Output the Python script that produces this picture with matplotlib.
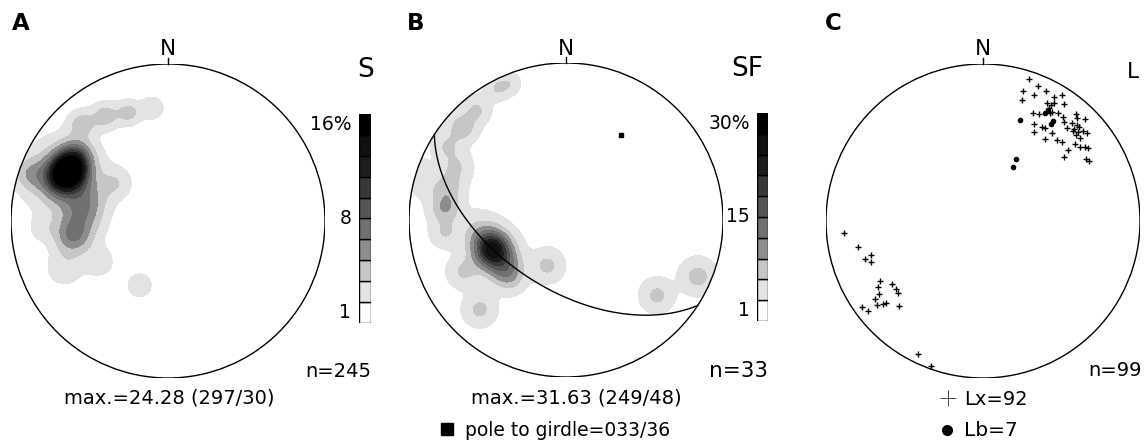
import numpy as np
import matplotlib.pyplot as plt
from matplotlib.patches import Circle

plt.rcParams['font.family'] = ['DejaVu Sans']

W, H = 1144, 446
R = 157  # net radius, px

# grey classes of the density keys, bottom (white) to top (black)
key_grays = ['#ffffff', '#e3e3e3', '#c6c6c6', '#8d8d8d', '#717171',
             '#555555', '#383838', '#1c1c1c', '#101010', '#000000']

# ---- A: poles to S
s_n = 245
s_max, s_max_trend, s_max_plunge = 24.28, 297, 30
s_levels = [1, 2.75, 4.5, 6.25, 8, 9.75, 11.5, 13.25, 15, 1000]
s_keys = ['1', '8', '16%']
s_key_pos = [0.5, 5.0, 9.5]
# density bodies around the maximum (x east, y north on unit net), peak %, spread
s_x = [-0.58, -0.69, -0.66, -0.52, -0.61, -0.55, -0.66, -0.33, -0.55, -0.40, -0.25, -0.10, -0.88, -0.18, -0.44, -0.80]
s_y = [0.42, 0.26, 0.28, 0.12, -0.10, 0.00, -0.30, 0.24, 0.62, 0.67, 0.69, 0.72, 0.30, -0.41, -0.26, -0.05]
s_amp = [4.5, 4.5, 6, 3, 5, 3, 2.2, 2.3, 3.4, 3.6, 3.4, 2.6, 3, 1.6, 2, 1.5]
s_sig = [0.07, 0.07, 0.15, 0.09, 0.08, 0.10, 0.08, 0.07, 0.06, 0.06, 0.055, 0.05, 0.07, 0.075, 0.07, 0.06]

# ---- B: poles to SF
sf_n = 33
sf_max, sf_max_trend, sf_max_plunge = 31.63, 249, 48
girdle_trend, girdle_plunge = 33, 36
sf_levels = [1, 4.5, 8, 11.5, 15, 18.5, 22, 25.5, 29, 1000]
sf_keys = ['1', '15', '30%']
sf_key_pos = [0.5, 5.0, 9.5]
sf_x = [-0.40, -0.56, -0.44, -0.36, -0.57, -0.66, -0.76, -0.70, -0.75, -0.77, -0.90, -0.93, -0.77, -0.65, -0.36, -0.12, -0.55, 0.58, 0.84, 0.46]
sf_y = [-0.28, -0.07, 0.84, 0.87, 0.70, 0.59, 0.47, 0.34, 0.21, 0.08, 0.22, 0.33, -0.08, -0.33, -0.36, -0.29, -0.57, -0.48, -0.36, -0.90]
sf_amp = [9, 4, 4.5, 3.5, 5, 7, 4.5, 4.5, 5.5, 8, 3, 2.5, 4.5, 5, 5.5, 5.5, 5.5, 5.5, 6, 1.4]
sf_sig = [0.08, 0.08, 0.05, 0.045, 0.055, 0.06, 0.06, 0.065, 0.065, 0.065, 0.055, 0.045, 0.06, 0.065, 0.065, 0.065, 0.065, 0.065, 0.07, 0.03]

# ---- C: stretching (Lx) and intersection (Lb) lineations, positions on unit net
lx_x = [0.293, 0.348, 0.257, 0.401, 0.325, 0.501, 0.250, 0.454, 0.406, 0.431, 0.452, 0.518, 0.423, 0.437,
        0.321, 0.359, 0.427, 0.480, 0.590, 0.512, 0.597, 0.650, 0.518, 0.565, 0.327, 0.378, 0.395, 0.597,
        0.614, 0.582, 0.533, 0.635, 0.665, 0.325, 0.437, 0.590, 0.618, 0.395, 0.469, 0.501, 0.586, 0.618,
        0.650, 0.667, 0.543, 0.516, 0.656, 0.673, 0.571, 0.607,
        -0.885, -0.794, -0.716, -0.752, -0.713, -0.656, -0.671, -0.577, -0.556, -0.539, -0.662, -0.688,
        -0.677, -0.635, -0.620, -0.773, -0.730, -0.535, -0.412, -0.333]
lx_y = [0.902, 0.862, 0.830, 0.828, 0.803, 0.805, 0.771, 0.788, 0.754, 0.739, 0.750, 0.743, 0.722, 0.696,
        0.690, 0.679, 0.686, 0.686, 0.682, 0.665, 0.654, 0.650, 0.633, 0.622, 0.618, 0.601, 0.590, 0.611,
        0.601, 0.584, 0.590, 0.575, 0.558, 0.565, 0.558, 0.548, 0.527, 0.520, 0.516, 0.505, 0.490, 0.473,
        0.469, 0.463, 0.452, 0.406, 0.393, 0.384, 0.575, 0.569,
        -0.079, -0.168, -0.217, -0.244, -0.261, -0.380, -0.418, -0.401, -0.435, -0.456, -0.465, -0.499,
        -0.535, -0.531, -0.520, -0.546, -0.571, -0.539, -0.849, -0.924]
lb_x = [0.236, 0.395, 0.431, 0.448, 0.210, 0.193, 0.416]
lb_y = [0.643, 0.686, 0.616, 0.639, 0.397, 0.342, 0.707]
lx_n, lb_n = 92, 7


def project(trend, plunge):
    # lower-hemisphere equal-area (Schmidt) net
    t = np.radians(trend)
    r = np.sqrt(2) * np.sin((np.pi / 2 - np.radians(plunge)) / 2)
    return r * np.sin(t), r * np.cos(t)


def density(xs, ys, amps, sigs, peak_xy, peak_amp, peak_sig, n=400):
    g = np.linspace(-1, 1, n)
    gx, gy = np.meshgrid(g, g)
    d = peak_amp * np.exp(-((gx - peak_xy[0])**2 + (gy - peak_xy[1])**2) / (2 * peak_sig**2))
    for x, y, a, s in zip(xs, ys, amps, sigs):
        d += a * np.exp(-((gx - x)**2 + (gy - y)**2) / (2 * s**2))
    return gx, gy, d


fig = plt.figure(figsize=(W / 100, H / 100), dpi=100)


def net_axes(cx, cy):
    ax = fig.add_axes([(cx - R) / W, (H - cy - R) / H, 2 * R / W, 2 * R / H])
    ax.set_xlim(-1, 1)
    ax.set_ylim(-1, 1)
    ax.axis('off')
    ax.add_patch(Circle((0, 0), 1, fill=False, ec='black', lw=1, zorder=5))
    ax.plot([0, 0], [1, 1 + 6 / R], color='black', lw=1, clip_on=False)
    return ax


def key_axes(x0, y0, x1, y1, labels, pos):
    kx = fig.add_axes([x0 / W, (H - y1) / H, (x1 - x0) / W, (y1 - y0) / H])
    kx.bar([0.5] * 10, [1] * 10, bottom=np.arange(10), width=1, color=key_grays,
           edgecolor='black', linewidth=1)
    kx.set_xlim(0, 1)
    kx.set_ylim(0, 10)
    kx.axis('off')
    for lab, p in zip(labels, pos):
        kx.text(-0.65, p, lab, ha='right', va='center', fontsize=13.5)
    return kx


# A
axA = net_axes(168, 221)
gx, gy, d = density(s_x, s_y, s_amp, s_sig, project(s_max_trend, s_max_plunge), 15, 0.075)
cs = axA.contourf(gx, gy, d, levels=s_levels, colors=key_grays[1:])
cs.set_clip_path(Circle((0, 0), 1, transform=axA.transData))
key_axes(359, 114, 371, 323, s_keys, s_key_pos)

# B
axB = net_axes(566, 220)
gx, gy, d = density(sf_x, sf_y, sf_amp, sf_sig, project(sf_max_trend, sf_max_plunge), 25, 0.08)
cs = axB.contourf(gx, gy, d, levels=sf_levels, colors=key_grays[1:])
cs.set_clip_path(Circle((0, 0), 1, transform=axB.transData))
# great circle of the girdle: plane normal to the pole
dip_dir = np.radians(girdle_trend + 180)
dip = np.radians(90 - girdle_plunge)
strike_v = np.array([np.sin(dip_dir - np.pi / 2), np.cos(dip_dir - np.pi / 2), 0])
dip_v = np.array([np.sin(dip_dir) * np.cos(dip), np.cos(dip_dir) * np.cos(dip), np.sin(dip)])
t = np.linspace(0, np.pi, 200)
v = np.outer(np.cos(t), strike_v) + np.outer(np.sin(t), dip_v)
gc_x, gc_y = project(np.degrees(np.arctan2(v[:, 0], v[:, 1])), np.degrees(np.arcsin(np.clip(v[:, 2], -1, 1))))
axB.plot(gc_x, gc_y, color='black', lw=1)
px, py = project(girdle_trend, girdle_plunge)
axB.plot(px, py, 's', color='black', markersize=3.5)
key_axes(757, 113, 768, 321, sf_keys, sf_key_pos)

# C
axC = net_axes(983, 221)
axC.plot(lx_x, lx_y, '+', color='black', markersize=4.5, mew=1)
axC.plot(lb_x, lb_y, 'o', color='black', markersize=3)

# labels, in pixel space
lay = fig.add_axes([0, 0, 1, 1])
lay.set_xlim(0, W)
lay.set_ylim(H, 0)
lay.axis('off')
for x, s in [(21, 'A'), (416, 'B'), (833, 'C')]:
    lay.text(x, 30, s, ha='center', va='baseline', fontsize=16.5, fontweight='bold')
for x in (168, 566, 983):
    lay.text(x, 55, 'N', ha='center', va='baseline', fontsize=15.5)
lay.text(366, 77, 'S', ha='center', va='baseline', fontsize=19)
lay.text(747, 76, 'SF', ha='center', va='baseline', fontsize=19)
lay.text(1127, 78, 'L', ha='left', va='baseline', fontsize=15.5)
lay.text(371, 377, f'n={s_n}', ha='right', va='baseline', fontsize=14)
lay.text(768, 377, f'n={sf_n}', ha='right', va='baseline', fontsize=15.5)
lay.text(1142, 376, f'n={lx_n + lb_n}', ha='right', va='baseline', fontsize=14)
lay.text(169, 404, f'max.={s_max:.2f} ({s_max_trend:03d}/{s_max_plunge})', ha='center', va='baseline', fontsize=14)
lay.text(576, 404, f'max.={sf_max:.2f} ({sf_max_trend:03d}/{sf_max_plunge})', ha='center', va='baseline', fontsize=14)
lay.plot([446.5], [429], 's', color='black', markersize=8)
lay.text(465, 436, f'pole to girdle={girdle_trend:03d}/{girdle_plunge}', ha='left', va='baseline', fontsize=13.5)
lay.plot([948], [398], '+', color='#444444', markersize=11, mew=0.7)
lay.text(964, 405, f'Lx={lx_n}', ha='left', va='baseline', fontsize=14)
lay.plot([947], [430], 'o', color='black', markersize=7)
lay.text(964, 436, f'Lb={lb_n}', ha='left', va='baseline', fontsize=14.5)

fig.savefig('out.png', dpi=100)
